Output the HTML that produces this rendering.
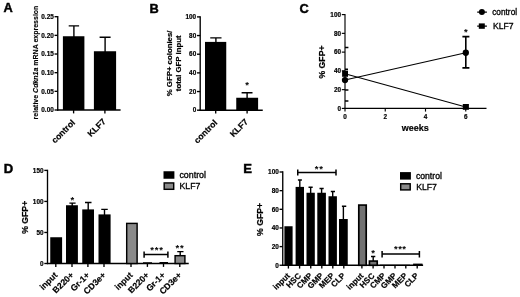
<!DOCTYPE html>
<html><head><meta charset="utf-8"><title>Figure</title>
<style>
html,body{margin:0;padding:0;background:#fff;}
body{width:520px;height:297px;overflow:hidden;font-family:"Liberation Sans",sans-serif;}
svg{display:block;}
svg text{font-family:"Liberation Sans",sans-serif;fill:#000;}
.pl{font-size:12.8px;font-weight:bold;stroke:#000;stroke-width:0.45px;}
.tk{font-size:6.4px;font-weight:bold;text-anchor:end;stroke:#000;stroke-width:0.2px;}
.tx{font-size:6.4px;font-weight:bold;text-anchor:middle;stroke:#000;stroke-width:0.2px;}
.yl{font-size:7.8px;font-weight:bold;text-anchor:middle;stroke:#000;stroke-width:0.2px;}
.yg{font-size:8.7px;font-weight:bold;text-anchor:middle;stroke:#000;stroke-width:0.2px;}
.yls{font-size:7px;font-weight:bold;stroke:#000;stroke-width:0.15px;}
.xl{font-size:8.6px;font-weight:bold;text-anchor:end;stroke:#000;stroke-width:0.2px;}
.xs{font-size:8.15px;font-weight:bold;text-anchor:end;stroke:#000;stroke-width:0.2px;}
.lg{font-size:8.2px;stroke:#000;stroke-width:0.3px;}
.st{font-size:8px;text-anchor:middle;}
.ax{stroke:#000;stroke-width:1.35;fill:none;}
.th{stroke:#000;stroke-width:1.4;fill:none;}
.br{stroke:#000;stroke-width:1.5;fill:none;}
.ln{stroke:#000;stroke-width:1.05;fill:none;}
.ac{stroke:#000;stroke-width:1.15;fill:none;}
.bk{fill:#000;}
.gy{fill:#8a8a8a;stroke:#050505;stroke-width:1.45;}
.gd{fill:#727272;stroke:#050505;stroke-width:1.7;}
</style></head><body>
<svg width="520" height="297" viewBox="0 0 520 297">
<rect width="520" height="297" fill="#fff"/>
<defs><filter id="soft" x="0" y="0" width="520" height="297" filterUnits="userSpaceOnUse"><feGaussianBlur stdDeviation="0.38"/></filter></defs>
<g id="fig" filter="url(#soft)">

<text class="pl" x="3.6" y="12">A</text>
<text class="yls" textLength="113.8" lengthAdjust="spacing" transform="translate(37.6 119.4) rotate(-90)">relative <tspan font-style="italic">Cdkn1a</tspan> mRNA expression</text>
<path class="ax" d="M57.75 16.05V110.65"/>
<path class="ax" d="M54.55 110.00H57.75"/>
<text class="tk" x="53.75" y="112.25">0.00</text>
<path class="ax" d="M54.55 91.34H57.75"/>
<text class="tk" x="53.75" y="93.59">0.05</text>
<path class="ax" d="M54.55 72.68H57.75"/>
<text class="tk" x="53.75" y="74.93">0.10</text>
<path class="ax" d="M54.55 54.02H57.75"/>
<text class="tk" x="53.75" y="56.27">0.15</text>
<path class="ax" d="M54.55 35.36H57.75"/>
<text class="tk" x="53.75" y="37.61">0.20</text>
<path class="ax" d="M54.55 16.70H57.75"/>
<text class="tk" x="53.75" y="18.95">0.25</text>
<path class="ax" d="M57.1 110H120.6"/>
<path class="th" d="M73.90 37.25V25.90M68.70 25.90H79.10"/>
<rect class="bk" x="62.90" y="36.25" width="21.50" height="73.75"/>
<path class="th" d="M105.10 52.25V37.25M99.60 37.25H110.60"/>
<rect class="bk" x="93.90" y="51.25" width="22.20" height="58.75"/>
<path class="ax" d="M73.60 110v3.4"/>
<path class="ax" d="M104.90 110v3.4"/>
<text class="xl" transform="translate(75.60 123.20) rotate(-45)">control</text>
<text class="xl" transform="translate(106.30 122.10) rotate(-45)">KLF7</text>
<text class="pl" x="149.6" y="12.9">B</text>
<text class="yl" transform="translate(171.9 63.4) rotate(-90)">% GFP+ colonies/</text>
<text class="yl" transform="translate(181.2 63.3) rotate(-90)">total GFP input</text>
<path class="ax" d="M200.2 16.25V110.85"/>
<path class="ax" d="M197.00 110.20H200.2"/>
<text class="tk" x="196.20" y="112.45">0</text>
<path class="ax" d="M197.00 91.54H200.2"/>
<text class="tk" x="196.20" y="93.79">20</text>
<path class="ax" d="M197.00 72.88H200.2"/>
<text class="tk" x="196.20" y="75.13">40</text>
<path class="ax" d="M197.00 54.22H200.2"/>
<text class="tk" x="196.20" y="56.47">60</text>
<path class="ax" d="M197.00 35.56H200.2"/>
<text class="tk" x="196.20" y="37.81">80</text>
<path class="ax" d="M197.00 16.90H200.2"/>
<text class="tk" x="196.20" y="19.15">100</text>
<path class="ax" d="M199.5 110.2H262.75"/>
<path class="th" d="M215.90 42.90V37.90M210.25 37.90H221.50"/>
<rect class="bk" x="205.00" y="41.90" width="21.25" height="68.30"/>
<path class="th" d="M247.10 98.75V92.75M241.60 92.75H252.50"/>
<rect class="bk" x="236.25" y="97.75" width="21.85" height="12.45"/>
<text class="st" style="font-size:9.5px;font-weight:bold" x="247.10" y="87.98">*</text>
<path class="ax" d="M215.70 110.2v3.4"/>
<path class="ax" d="M247.10 110.2v3.4"/>
<text class="xl" transform="translate(218.00 123.30) rotate(-45)">control</text>
<text class="xl" transform="translate(248.60 122.40) rotate(-45)">KLF7</text>
<text class="pl" x="299.6" y="12.9">C</text>
<text class="yg" transform="translate(325 62) rotate(-90)">% GFP+</text>
<path class="ac" d="M345 13.95V109.05"/>
<path class="ac" d="M341.80 108.40H345"/>
<text class="tk" x="341.00" y="110.65">0</text>
<path class="ac" d="M341.80 89.64H345"/>
<text class="tk" x="341.00" y="91.89">20</text>
<path class="ac" d="M341.80 70.88H345"/>
<text class="tk" x="341.00" y="73.13">40</text>
<path class="ac" d="M341.80 52.12H345"/>
<text class="tk" x="341.00" y="54.37">60</text>
<path class="ac" d="M341.80 33.36H345"/>
<text class="tk" x="341.00" y="35.61">80</text>
<path class="ac" d="M341.80 14.60H345"/>
<text class="tk" x="341.00" y="16.85">100</text>
<path class="ac" d="M344.3 108.4H486.5"/>
<path class="ac" d="M345.00 108.4v3.2"/>
<text class="tx" x="345.00" y="118.5">0</text>
<path class="ac" d="M385.25 108.4v3.2"/>
<text class="tx" x="385.25" y="118.5">2</text>
<path class="ac" d="M425.50 108.4v3.2"/>
<text class="tx" x="425.50" y="118.5">4</text>
<path class="ac" d="M465.75 108.4v3.2"/>
<text class="tx" x="465.75" y="118.5">6</text>
<text class="xl" style="text-anchor:middle;font-size:9px" x="415.3" y="130.6">weeks</text>
<path class="th" d="M345 47.5h3.4M345 69.3h3M345 90h3.4M345 101h3.4"/>
<path class="ln" d="M345 80L465.8 52.75"/>
<path class="ln" d="M345 73.75L465.8 106.9"/>
<circle cx="345" cy="80.1" r="3.15" fill="#000"/>
<rect x="342.1" y="70.6" width="5.9" height="6.2" fill="#000"/>
<path class="ax" style="stroke-width:1.6" d="M465.8 36.6V67.9M462.4 36.6H469.4M462.4 67.9H469.4"/>
<circle cx="465.8" cy="52.75" r="3.15" fill="#000"/>
<rect x="462.8" y="104" width="6.1" height="5.8" fill="#000"/>
<text class="st" style="font-size:9.5px;font-weight:bold" x="465.90" y="34.98">*</text>
<path class="ln" d="M477.2 12.1H486.9M477.2 26.1H486.9"/>
<circle cx="481.9" cy="12.1" r="3" fill="#000"/>
<rect x="478.8" y="23.4" width="6" height="5.4" fill="#000"/>
<text class="lg" x="492.2" y="14.75" textLength="24.9" lengthAdjust="spacingAndGlyphs">control</text>
<text class="lg" x="492.9" y="29" textLength="20.6" lengthAdjust="spacingAndGlyphs">KLF7</text>
<text class="pl" x="3.8" y="172.9" style="font-size:13.1px">D</text>
<text class="yg" transform="translate(27.8 217.3) rotate(-90)">% GFP+</text>
<path class="ax" d="M47.5 169.75V264.15"/>
<path class="ax" d="M44.30 263.50H47.5"/>
<text class="tk" x="43.50" y="265.75">0</text>
<path class="ax" d="M44.30 232.47H47.5"/>
<text class="tk" x="43.50" y="234.72">50</text>
<path class="ax" d="M44.30 201.43H47.5"/>
<text class="tk" x="43.50" y="203.68">100</text>
<path class="ax" d="M44.30 170.40H47.5"/>
<text class="tk" x="43.50" y="172.65">150</text>
<path class="ax" d="M46.8 263.5H188.75"/>
<rect class="bk" x="50.25" y="237.25" width="11.85" height="26.25"/>
<path class="th" d="M72.20 206.25V203.10M69.40 203.10H75.60"/>
<rect class="bk" x="66.00" y="205.25" width="11.90" height="58.25"/>
<path class="th" d="M88.20 210.40V202.50M85.00 202.50H91.50"/>
<rect class="bk" x="82.25" y="209.40" width="11.75" height="54.10"/>
<path class="th" d="M104.50 215.40V209.40M101.25 209.40H107.75"/>
<rect class="bk" x="98.50" y="214.40" width="12.10" height="49.10"/>
<text class="st" style="font-size:9.5px;font-weight:bold" x="72.25" y="202.88">*</text>
<rect class="gy" x="126.70" y="223.40" width="10.40" height="40.10"/>
<path class="th" d="M143 263.0h9M159.5 262.6h8.5"/>
<path class="th" d="M180.20 256.00V251.60M177.25 251.60H183.50"/>
<rect class="gy" x="175.10" y="255.70" width="9.80" height="7.80"/>
<text class="st" style="font-size:9.5px;font-weight:bold" x="177.45" y="250.88">*</text>
<text class="st" style="font-size:9.5px;font-weight:bold" x="181.95" y="250.88">*</text>
<path class="br" d="M144.1 254.6H167.9M144.1 251.5v6.3M167.9 251.5v6.3"/>
<text class="st" style="font-size:9.5px;font-weight:bold" x="152.10" y="252.88">*</text>
<text class="st" style="font-size:9.5px;font-weight:bold" x="156.60" y="252.88">*</text>
<text class="st" style="font-size:9.5px;font-weight:bold" x="161.10" y="252.88">*</text>
<path class="ax" d="M55.80 263.5v3.4"/>
<text class="xl" transform="translate(58.00 275.70) rotate(-45)">input</text>
<path class="ax" d="M72.00 263.5v3.4"/>
<text class="xl" transform="translate(74.20 275.70) rotate(-45)">B220+</text>
<path class="ax" d="M87.90 263.5v3.4"/>
<text class="xl" transform="translate(90.10 275.70) rotate(-45)">Gr-1+</text>
<path class="ax" d="M104.00 263.5v3.4"/>
<text class="xl" transform="translate(106.20 275.70) rotate(-45)">CD3e+</text>
<path class="ax" d="M131.00 263.5v3.4"/>
<text class="xl" transform="translate(133.20 275.70) rotate(-45)">input</text>
<path class="ax" d="M147.40 263.5v3.4"/>
<text class="xl" transform="translate(149.60 275.70) rotate(-45)">B220+</text>
<path class="ax" d="M163.50 263.5v3.4"/>
<text class="xl" transform="translate(165.70 275.70) rotate(-45)">Gr-1+</text>
<path class="ax" d="M179.80 263.5v3.4"/>
<text class="xl" transform="translate(182.00 275.70) rotate(-45)">CD3e+</text>
<rect class="bk" x="163.5" y="171.25" width="10.9" height="7.5"/>
<rect class="gy" x="164.2" y="182.95" width="9.5" height="6.35"/>
<text class="lg" x="179.4" y="177.75" textLength="26.6" lengthAdjust="spacingAndGlyphs">control</text>
<text class="lg" x="179.5" y="188.75" textLength="20.8" lengthAdjust="spacingAndGlyphs">KLF7</text>
<text class="pl" x="243.3" y="172.5" style="font-size:13.1px">E</text>
<text class="yg" transform="translate(263.4 219.4) rotate(-90)">% GFP+</text>
<path class="ax" d="M282.75 171.35V265.90"/>
<path class="ax" d="M279.55 265.25H282.75"/>
<text class="tk" x="278.75" y="267.50">0</text>
<path class="ax" d="M279.55 246.60H282.75"/>
<text class="tk" x="278.75" y="248.85">20</text>
<path class="ax" d="M279.55 227.95H282.75"/>
<text class="tk" x="278.75" y="230.20">40</text>
<path class="ax" d="M279.55 209.30H282.75"/>
<text class="tk" x="278.75" y="211.55">60</text>
<path class="ax" d="M279.55 190.65H282.75"/>
<text class="tk" x="278.75" y="192.90">80</text>
<path class="ax" d="M279.55 172.00H282.75"/>
<text class="tk" x="278.75" y="174.25">100</text>
<path class="ax" d="M282.1 265.25H423.1"/>
<rect class="bk" x="284.40" y="226.25" width="8.20" height="39.00"/>
<path class="th" d="M299.80 187.90V180.00M297.90 180.00H301.90"/>
<rect class="bk" x="295.60" y="186.90" width="8.40" height="78.35"/>
<path class="th" d="M310.65 193.75V187.25M308.50 187.25H312.70"/>
<rect class="bk" x="306.50" y="192.75" width="8.30" height="72.50"/>
<path class="th" d="M321.60 193.75V188.50M319.50 188.50H323.70"/>
<rect class="bk" x="317.30" y="192.75" width="8.60" height="72.50"/>
<path class="th" d="M332.70 197.25V191.50M330.80 191.50H335.00"/>
<rect class="bk" x="328.50" y="196.25" width="8.40" height="69.00"/>
<path class="th" d="M343.38 220.00V206.25M341.90 206.25H346.25"/>
<rect class="bk" x="339.00" y="219.00" width="8.75" height="46.25"/>
<path class="br" d="M297.75 172.6H336M297.75 169.6v6M336 169.6v6"/>
<text class="st" style="font-size:9.5px;font-weight:bold" x="316.50" y="171.58">*</text>
<text class="st" style="font-size:9.5px;font-weight:bold" x="321.00" y="171.58">*</text>
<rect class="gd" x="358.80" y="205.10" width="7.40" height="60.15"/>
<path class="th" d="M373.20 261.40V256.50M371.00 256.50H375.30"/>
<rect class="gd" x="369.45" y="261.10" width="7.75" height="4.15"/>
<text class="st" style="font-size:9.5px;font-weight:bold" x="373.10" y="255.58">*</text>
<path class="th" stroke-opacity="0.3" d="M380 264.75h30"/>
<rect class="bk" x="413.1" y="263.6" width="9.4" height="1.7"/>
<path class="br" d="M382.1 254.1H419.4M382.1 251v6.5M419.4 251v6.5"/>
<text class="st" style="font-size:9.5px;font-weight:bold" x="395.80" y="251.88">*</text>
<text class="st" style="font-size:9.5px;font-weight:bold" x="400.00" y="251.88">*</text>
<text class="st" style="font-size:9.5px;font-weight:bold" x="404.20" y="251.88">*</text>
<path class="ax" d="M288.40 265.25v3.3"/>
<text class="xs" transform="translate(290.40 276.25) rotate(-45)">input</text>
<path class="ax" d="M299.60 265.25v3.3"/>
<text class="xs" transform="translate(301.60 276.25) rotate(-45)">HSC</text>
<path class="ax" d="M310.75 265.25v3.3"/>
<text class="xs" transform="translate(312.75 276.25) rotate(-45)">CMP</text>
<path class="ax" d="M321.80 265.25v3.3"/>
<text class="xs" transform="translate(323.80 276.25) rotate(-45)">GMP</text>
<path class="ax" d="M332.80 265.25v3.3"/>
<text class="xs" transform="translate(334.80 276.25) rotate(-45)">MEP</text>
<path class="ax" d="M343.80 265.25v3.3"/>
<text class="xs" transform="translate(345.80 276.25) rotate(-45)">CLP</text>
<path class="ax" d="M361.90 265.25v3.3"/>
<text class="xs" transform="translate(363.90 276.25) rotate(-45)">input</text>
<path class="ax" d="M373.10 265.25v3.3"/>
<text class="xs" transform="translate(375.10 276.25) rotate(-45)">HSC</text>
<path class="ax" d="M384.00 265.25v3.3"/>
<text class="xs" transform="translate(386.00 276.25) rotate(-45)">CMP</text>
<path class="ax" d="M395.00 265.25v3.3"/>
<text class="xs" transform="translate(397.00 276.25) rotate(-45)">GMP</text>
<path class="ax" d="M405.80 265.25v3.3"/>
<text class="xs" transform="translate(407.80 276.25) rotate(-45)">MEP</text>
<path class="ax" d="M417.20 265.25v3.3"/>
<text class="xs" transform="translate(419.20 276.25) rotate(-45)">CLP</text>
<rect class="bk" x="400" y="172.1" width="10.9" height="7.5"/>
<rect class="gy" x="400.7" y="183.8" width="9.5" height="6.1"/>
<text class="lg" x="415.9" y="178.75" textLength="26" lengthAdjust="spacingAndGlyphs">control</text>
<text class="lg" x="416.2" y="189.75" textLength="20.7" lengthAdjust="spacingAndGlyphs">KLF7</text>
</g></svg></body></html>
